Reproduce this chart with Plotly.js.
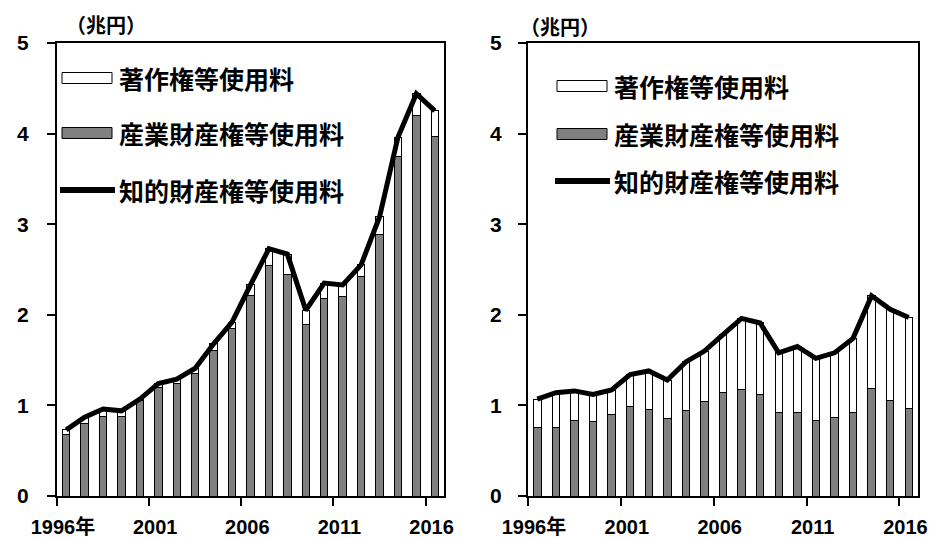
<!DOCTYPE html>
<html><head><meta charset="utf-8">
<script src="https://cdn.plot.ly/plotly-3.0.1.min.js"></script>
<style>html,body{margin:0;padding:0;background:#fff;}#chart{width:937px;height:538px;}</style>
</head><body><div id="chart"></div>
<script>
// ---- data ----
const years = [1996,1997,1998,1999,2000,2001,2002,2003,2004,2005,2006,2007,2008,2009,2010,2011,2012,2013,2014,2015,2016];
const xTickYears = [1996, 2001, 2006, 2011, 2016];
const xTickLabels = ['1996年', '2001', '2006', '2011', '2016'];
const legendNames = ['著作権等使用料', '産業財産権等使用料', '知的財産権等使用料'];
const unitLabel = '（兆円）';

// left panel
const leftIndustrial = [0.68,0.80,0.875,0.875,1.05,1.20,1.245,1.35,1.61,1.85,2.215,2.54,2.45,1.89,2.18,2.20,2.42,2.89,3.745,4.205,3.965];
const leftCopyright  = [0.05,0.07,0.085,0.065,0.02,0.04,0.045,0.06,0.07,0.07,0.115,0.19,0.22,0.16,0.17,0.13,0.13,0.19,0.215,0.235,0.285];
const leftTotal      = [0.73,0.87,0.96,0.94,1.07,1.24,1.29,1.41,1.68,1.92,2.33,2.73,2.67,2.05,2.35,2.33,2.55,3.08,3.96,4.44,4.25];

// right panel
const rightIndustrial = [0.76,0.76,0.835,0.82,0.90,0.985,0.955,0.85,0.94,1.04,1.145,1.175,1.115,0.925,0.925,0.835,0.865,0.925,1.19,1.055,0.965];
const rightCopyright  = [0.31,0.38,0.325,0.30,0.27,0.355,0.425,0.43,0.54,0.56,0.635,0.785,0.795,0.655,0.725,0.685,0.715,0.815,1.02,1.005,1.005];
const rightTotal      = [1.07,1.14,1.16,1.12,1.17,1.34,1.38,1.28,1.48,1.60,1.78,1.96,1.91,1.58,1.65,1.52,1.58,1.74,2.21,2.06,1.97];

// ---- layout helpers ----
const W = 937, H = 538;
const px = x => x / W;
const py = y => 1 - y / H;
const GRAY = '#808080';
const NUM_FONT = 'Liberation Sans, Arial, Noto Sans CJK JP, sans-serif';
const CJK_FONT = 'Noto Sans CJK JP, sans-serif';

function panelTraces(ind, copy, tot, xa, ya) {
  return [
    {type:'bar', x:years, y:ind, xaxis:xa, yaxis:ya, width:0.4, name:legendNames[1], showlegend:false,
     marker:{color:GRAY, line:{color:'#000', width:1}}, hoverinfo:'x+y'},
    {type:'bar', x:years, y:copy, xaxis:xa, yaxis:ya, width:0.4, name:legendNames[0], showlegend:false,
     marker:{color:'#fff', line:{color:'#000', width:1}}, hoverinfo:'x+y'},
    {type:'scatter', mode:'lines', x:years, y:tot, xaxis:xa, yaxis:ya, name:legendNames[2], showlegend:false,
     line:{color:'#000', width:5}, cliponaxis:false}
  ];
}

const data = [
  ...panelTraces(leftIndustrial, leftCopyright, leftTotal, 'x', 'y'),
  ...panelTraces(rightIndustrial, rightCopyright, rightTotal, 'x2', 'y2')
];

function xAxis(domain, anchor) {
  return {domain, anchor, range:[1995.5, 2016.5],
    tickmode:'array', tickvals:xTickYears.map(v => v - 0.5), ticktext:xTickLabels,
    ticks:'outside', ticklen:8, tickwidth:2, tickcolor:'#000',
    showline:true, linewidth:2, linecolor:'#000', mirror:true,
    showgrid:false, zeroline:false, automargin:false, fixedrange:true,
    ticklabelshift:6, ticklabelstandoff:4,
    tickfont:{family:NUM_FONT, size:20, color:'#000', weight:'bold'}};
}
function yAxis(domain, anchor, standoff) {
  return {domain, anchor, range:[0, 5], tickmode:'linear', tick0:0, dtick:1,
    ticks:'outside', ticklen:8, tickwidth:2, tickcolor:'#000',
    showline:true, linewidth:2, linecolor:'#000', mirror:true,
    showgrid:false, zeroline:false, automargin:false, fixedrange:true,
    ticklabelstandoff:standoff,
    tickfont:{family:NUM_FONT, size:21, color:'#000', weight:'bold'}};
}

function legendBlock(boxX0, boxX1, rows, lineX0, lineX1, textX) {
  const shapes = [
    {type:'rect', xref:'paper', yref:'paper', x0:px(boxX0), x1:px(boxX1), y0:py(rows[0]+5.5), y1:py(rows[0]-5.5),
     fillcolor:'#fff', line:{color:'#000', width:1}},
    {type:'rect', xref:'paper', yref:'paper', x0:px(boxX0), x1:px(boxX1), y0:py(rows[1]+5.5), y1:py(rows[1]-5.5),
     fillcolor:GRAY, line:{color:'#000', width:1}},
    {type:'line', xref:'paper', yref:'paper', x0:px(lineX0), x1:px(lineX1), y0:py(rows[2]), y1:py(rows[2]),
     line:{color:'#000', width:6}}
  ];
  const annotations = [0,1,2].map(i => ({
    xref:'paper', yref:'paper', x:px(textX), y:py(rows[i]), xanchor:'left', yanchor:'middle',
    text:legendNames[i], showarrow:false, font:{family:CJK_FONT, size:25, color:'#000', weight:'bold'}
  }));
  return {shapes, annotations};
}

const legL = legendBlock(62, 112, [78, 133, 190], 60, 115, 117);
const legR = legendBlock(557, 607, [86, 134, 181], 555, 610, 612);

const unitAnns = [
  {xref:'paper', yref:'paper', x:px(64), y:py(24), xanchor:'left', yanchor:'middle', text:unitLabel,
   showarrow:false, font:{family:CJK_FONT, size:20, color:'#000', weight:'bold'}},
  {xref:'paper', yref:'paper', x:px(518), y:py(26), xanchor:'left', yanchor:'middle', text:unitLabel,
   showarrow:false, font:{family:CJK_FONT, size:20, color:'#000', weight:'bold'}}
];

const layout = {
  width:W, height:H, margin:{l:0, r:0, t:0, b:0},
  paper_bgcolor:'#fff', plot_bgcolor:'#fff',
  barmode:'stack', bargap:0, showlegend:false,
  xaxis:xAxis([px(57), px(444)], 'y'),
  yaxis:yAxis([1 - 496/H, 1 - 43/H], 'x', 14),
  xaxis2:xAxis([px(528), px(918)], 'y2'),
  yaxis2:yAxis([1 - 496/H, 1 - 43/H], 'x2', 12),
  shapes:[...legL.shapes, ...legR.shapes],
  annotations:[...legL.annotations, ...legR.annotations, ...unitAnns]
};

Plotly.newPlot('chart', data, layout, {displayModeBar:false, staticPlot:true});
</script>
</body></html>
